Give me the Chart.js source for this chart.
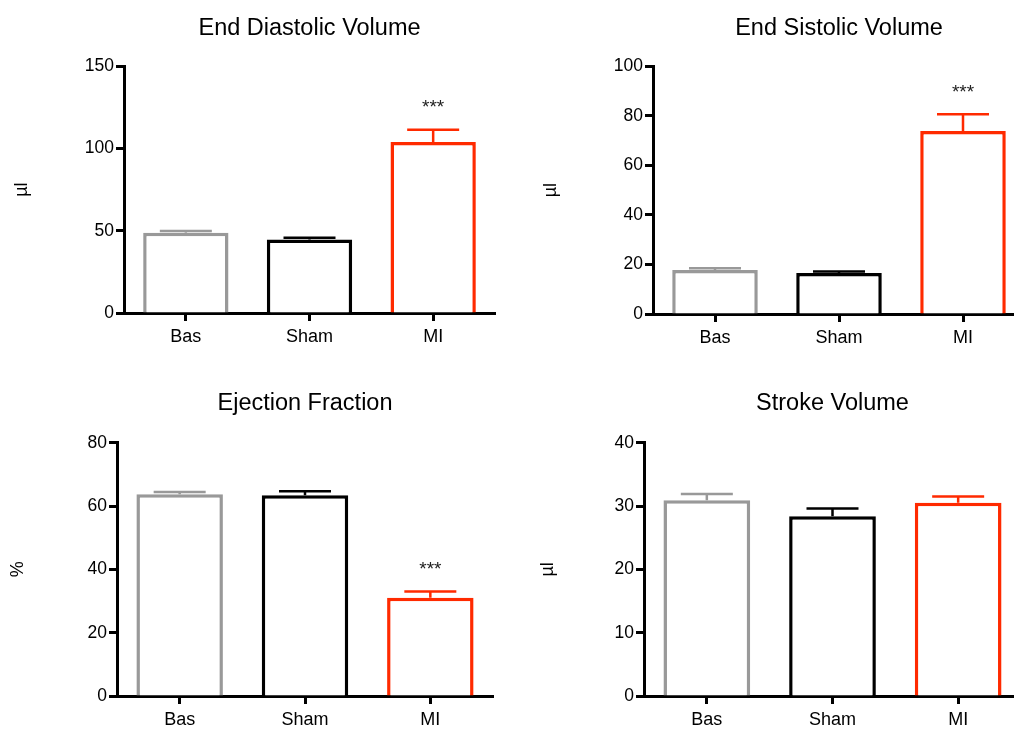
<!DOCTYPE html>
<html>
<head>
<meta charset="utf-8">
<script src="https://cdn.jsdelivr.net/npm/chart.js@4"></script>
<style>
  html, body { margin: 0; padding: 0; background: #fff; overflow: hidden; }
  body { width: 1014px; height: 729px; position: relative; }
  canvas { position: absolute; }
</style>
</head>
<body>
<canvas id="edv" width="507" height="370" style="left:0;top:0"></canvas>
<canvas id="esv" width="530" height="370" style="left:507px;top:0"></canvas>
<canvas id="ef" width="507" height="370" style="left:0;top:375px"></canvas>
<canvas id="sv" width="530" height="370" style="left:507px;top:375px"></canvas>
<script>
const categories = ['Bas', 'Sham', 'MI'];

// media y error estandar (solo hacia arriba)
const edvMean = [48.8, 44.7, 104.0];
const edvErr = [1.0, 1.0, 7.4];
const edvStars = ['', '', '***'];

const esvMean = [17.8, 16.5, 73.8];
const esvErr = [0.7, 0.7, 6.8];
const esvStars = ['', '', '***'];

const efMean = [63.7, 63.4, 31.0];
const efErr = [0.7, 1.3, 2.0];
const efStars = ['', '', '***'];

const svMean = [30.9, 28.4, 30.5];
const svErr = [1.0, 1.2, 1.0];
const svStars = ['', '', ''];

const barColors = ['#999999', '#000000', '#ff2a00'];
const FONT = "'Liberation Sans', Arial, sans-serif";

Chart.defaults.color = '#000';
Chart.defaults.font.family = FONT;

// dibuja barras de error y asteriscos usando las escalas del grafico
const errorBarPlugin = {
  id: 'errorBars',
  afterDatasetsDraw(chart, args, opts) {
    const ctx = chart.ctx;
    const yScale = chart.scales.y;
    const meta = chart.getDatasetMeta(0);
    ctx.save();
    meta.data.forEach((bar, i) => {
      const top = yScale.getPixelForValue(opts.mean[i]);
      const cap = yScale.getPixelForValue(opts.mean[i] + opts.err[i]);
      ctx.strokeStyle = barColors[i];
      ctx.lineWidth = 2.5;
      ctx.beginPath();
      ctx.moveTo(bar.x, top);
      ctx.lineTo(bar.x, cap);
      ctx.moveTo(bar.x - 26, cap);
      ctx.lineTo(bar.x + 26, cap);
      ctx.stroke();
      if (opts.stars[i]) {
        ctx.fillStyle = '#222';
        ctx.font = '19px ' + FONT;
        ctx.textAlign = 'center';
        ctx.textBaseline = 'middle';
        ctx.fillText(opts.stars[i], bar.x, cap - 22);
      }
    });
    ctx.restore();
  }
};

function makeChart(id, title, mean, err, stars, yMax, yStep, yLabel, g) {
  return new Chart(document.getElementById(id), {
    type: 'bar',
    data: {
      labels: categories,
      datasets: [{
        data: mean,
        backgroundColor: '#ffffff',
        borderColor: barColors,
        borderWidth: 3.5,
        barPercentage: 0.69,
        categoryPercentage: 1
      }]
    },
    options: {
      responsive: false,
      animation: false,
      events: [],
      layout: { padding: { left: 0, right: g.padR, top: 0, bottom: 0 } },
      plugins: {
        legend: { display: false },
        tooltip: { enabled: false },
        title: {
          display: true,
          text: title,
          fullSize: false,
          color: '#000',
          font: { size: 23.5, weight: 'normal' },
          padding: { top: 14.5, bottom: g.titleBottom }
        },
        errorBars: { mean: mean, err: err, stars: stars }
      },
      scales: {
        x: {
          afterFit: (s) => { s.height = g.xH; },
          grid: { display: true, drawOnChartArea: false, offset: false, tickLength: 8, tickWidth: 3, tickColor: '#000' },
          border: { display: true, width: 3, color: '#000' },
          ticks: { padding: 5, font: { size: 18 }, color: '#000' }
        },
        y: {
          min: 0,
          max: yMax,
          afterFit: (s) => { s.width = g.yW; },
          grid: { display: true, drawOnChartArea: false, tickLength: 8, tickWidth: 3, tickColor: '#000' },
          border: { display: true, width: 3, color: '#000' },
          ticks: { stepSize: yStep, padding: 2, font: { size: 17.5 }, color: '#000' },
          title: {
            display: true,
            text: yLabel,
            color: '#000',
            font: { size: 18 },
            padding: { top: g.yTitlePad, bottom: 0 }
          }
        }
      }
    },
    plugins: [errorBarPlugin]
  });
}

makeChart('edv', 'End Diastolic Volume', edvMean, edvErr, edvStars, 150, 50, 'µl',
  { yW: 124, padR: 12, titleBottom: 23.5, xH: 57, yTitlePad: 11 });
makeChart('esv', 'End Sistolic Volume', esvMean, esvErr, esvStars, 100, 20, 'µl',
  { yW: 146, padR: 12, titleBottom: 23.5, xH: 56, yTitlePad: 33 });
makeChart('ef', 'Ejection Fraction', efMean, efErr, efStars, 80, 20, '%',
  { yW: 117, padR: 14, titleBottom: 25, xH: 49, yTitlePad: 7 });
makeChart('sv', 'Stroke Volume', svMean, svErr, svStars, 40, 10, 'µl',
  { yW: 137, padR: 16, titleBottom: 25, xH: 49, yTitlePad: 30 });
</script>
</body>
</html>
